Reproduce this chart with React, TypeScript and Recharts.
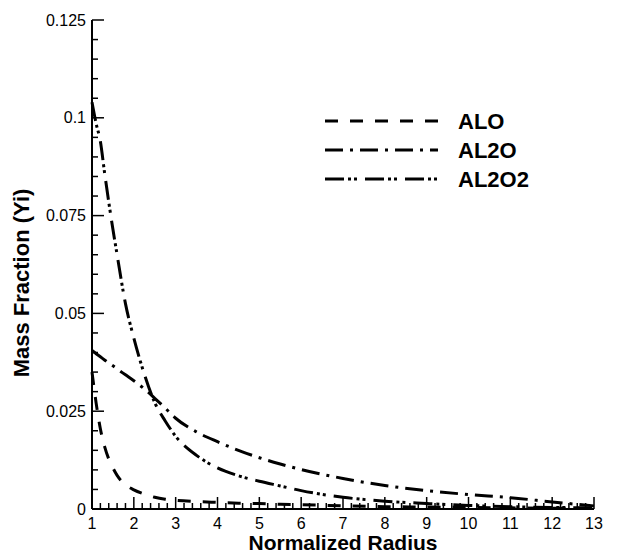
import { LineChart, Line, XAxis, YAxis } from "recharts";

const radius = [1, 1.1, 1.2, 1.3, 1.4, 1.5, 1.6, 1.8, 2, 2.25, 2.5, 2.75, 3, 3.5, 4, 4.5, 5, 5.5, 6, 7, 8, 9, 10, 11, 12, 13];

const alo = [0.035, 0.027, 0.0205, 0.016, 0.0128, 0.0105, 0.0086, 0.0062, 0.0049, 0.0038, 0.003, 0.0025, 0.0022, 0.0019, 0.0017, 0.0015, 0.0014, 0.0012, 0.0011, 0.0008, 0.0006, 0.0005, 0.0004, 0.0003, 0.0002, 0.0002];

const al2o = [0.0405, 0.0397, 0.0389, 0.0381, 0.0373, 0.0366, 0.0358, 0.0343, 0.0328, 0.0307, 0.0283, 0.0258, 0.0232, 0.0197, 0.0172, 0.015, 0.0131, 0.0115, 0.0101, 0.0078, 0.006, 0.0047, 0.0037, 0.0029, 0.0018, 0.0008];

const al2o2 = [0.104, 0.0985, 0.094, 0.086, 0.0785, 0.0715, 0.065, 0.0525, 0.0437, 0.0345, 0.0272, 0.0225, 0.0186, 0.0137, 0.0105, 0.0085, 0.0071, 0.0059, 0.0047, 0.003, 0.002, 0.0014, 0.0009, 0.0006, 0.0004, 0.0003];

const seriesNames = ["ALO", "AL2O", "AL2O2"];
const seriesKeys = ["alo", "al2o", "al2o2"];
const dashes = ["13 12", "18 7 3 7", "19 4 3 3 3 8"];

// x ticks every 0.2, labels on integers; y ticks every 0.005, labels every 0.025
const xTicks: number[] = [];
for (let i = 10; i <= 130; i += 2) xTicks.push(i / 10);
const yTicks: number[] = [];
for (let i = 0; i <= 125; i += 5) yTicks.push(i / 1000);

const data = radius.map((r, i) => ({
  r,
  alo: alo[i],
  al2o: al2o[i],
  al2o2: al2o2[i],
}));

const font = "'Liberation Sans', Arial, Helvetica, sans-serif";

function XTick(props: any) {
  const { x, y, payload } = props;
  const major = Number.isInteger(payload.value);
  return (
    <g>
      <line x1={x} x2={x} y1={y} y2={y - (major ? 12 : 6)} stroke="#000" strokeWidth={1.5} />
      {major && (
        <text x={x} y={y + 20} textAnchor="middle" fontSize={16} fontFamily={font} fill="#000">
          {payload.value}
        </text>
      )}
    </g>
  );
}

function YTick(props: any) {
  const { x, y, payload } = props;
  const major = Math.round(payload.value * 1000) % 25 === 0;
  return (
    <g>
      <line x1={x} x2={x + (major ? 12 : 6)} y1={y} y2={y} stroke="#000" strokeWidth={1.5} />
      {major && (
        <text x={x - 6} y={y + 5.5} textAnchor="end" fontSize={16} fontFamily={font} fill="#000">
          {String(Math.round(payload.value * 1000) / 1000)}
        </text>
      )}
    </g>
  );
}

export default function App() {
  return (
    <div style={{ position: "absolute", left: 0, top: 0, width: 640, height: 557, background: "#fff" }}>
      <LineChart
        width={640}
        height={557}
        data={data}
        margin={{ top: 20, right: 46, bottom: 18, left: 32 }}
      >
        <XAxis
          dataKey="r"
          type="number"
          domain={[1, 13]}
          ticks={xTicks}
          interval={0}
          height={30}
          tickSize={0}
          tickMargin={0}
          tick={<XTick />}
          axisLine={{ stroke: "#000", strokeWidth: 2 }}
        />
        <YAxis
          type="number"
          domain={[0, 0.125]}
          ticks={yTicks}
          interval={0}
          width={60}
          tickSize={0}
          tickMargin={0}
          tick={<YTick />}
          axisLine={{ stroke: "#000", strokeWidth: 2 }}
        />
        {seriesKeys.map((k, i) => (
          <Line
            key={k}
            dataKey={k}
            name={seriesNames[i]}
            type="monotone"
            stroke="#000"
            strokeWidth={3}
            strokeDasharray={dashes[i]}
            dot={false}
            isAnimationActive={false}
          />
        ))}
      </LineChart>
      <svg
        width={640}
        height={557}
        style={{ position: "absolute", left: 0, top: 0, pointerEvents: "none" }}
      >
        <text x={343} y={550} textAnchor="middle" fontSize={21} fontWeight="bold" fontFamily={font}>
          Normalized Radius
        </text>
        <text
          x={29}
          y={283}
          textAnchor="middle"
          fontSize={22}
          fontWeight="bold"
          fontFamily={font}
          transform="rotate(-90 29 283)"
        >
          Mass Fraction (Yi)
        </text>
        {seriesNames.map((n, i) => {
          const cy = 121 + i * 29;
          return (
            <g key={n}>
              <line x1={325} x2={438} y1={cy} y2={cy} stroke="#000" strokeWidth={3} strokeDasharray={dashes[i]} />
              <text x={458} y={cy + 7.5} fontSize={22} fontWeight="bold" fontFamily={font}>
                {n}
              </text>
            </g>
          );
        })}
      </svg>
    </div>
  );
}
